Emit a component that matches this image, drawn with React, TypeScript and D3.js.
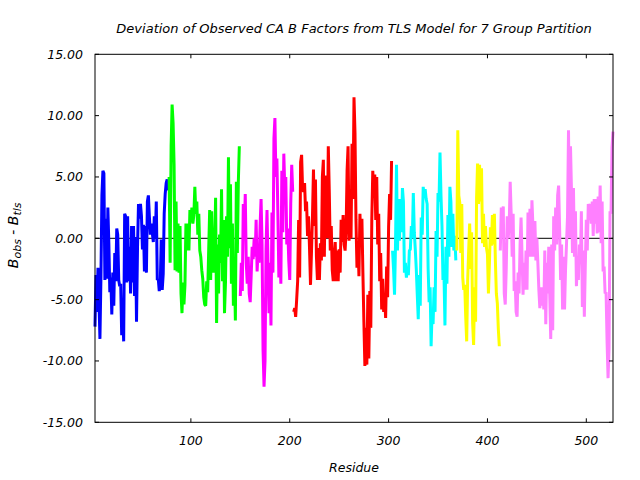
import React from "react";
import * as d3 from "d3";

const titleText = "Deviation of Observed CA B Factors from TLS Model for 7 Group Partition";
const xTicks = [100, 200, 300, 400, 500];
const yTicks = [-15, -10, -5, 0, 5, 10, 15];

const groupStarts = [3, 78, 150, 204, 304, 369, 413];
const groupColors = ["#0000ff", "#00ff00", "#ff00ff", "#ff0000", "#00ffff", "#ffff00", "#ff80ff"];

const group1 = [
  -7.2, -3.0, -6.0, -2.4, -5.0, -8.2, -3.2, 3.5, 5.5, 5.3,
  -3.4, 1.6, -3.3, 2.5, -0.4, -4.4, -3.2, -6.2, -2.8, -5.5,
  -1.2, -3.5, 0.8, 0.3, -3.4, -3.9, -3.7, -7.9, -5.8, -8.4,
  2.0, 1.8, -3.6, 1.8, -3.5, -0.7, -4.5, 1.0, -3.6, 1.0,
  -4.7, 0.1, -6.8, -0.8, 2.8, 1.6, 2.8, 1.8, -0.9, 1.1,
  -2.7, 1.0, -2.8, 3.0, 3.5, 1.8, 0.3, 1.2, 0.4, -0.3,
  1.8, 0.0, 3.0, -3.4, -3.3, -4.3, -3.8, -0.1, -4.2, -2.9,
  2.0, 3.6, 4.5, 4.8, 3.9,
];
const group2 = [
  5.0, -2.0, 7.5, 10.9, 9.4, 6.0, -2.6, 3.0, -2.7, 1.2,
  -2.8, 1.0, -4.5, -6.1, -3.6, -5.4, -3.8, 1.2, -1.0, 1.2,
  -1.0, 2.3, 1.3, 2.5, 1.2, 1.9, 4.2, 2.0, 3.0, 0.3,
  2.0, -1.0, -1.5, -2.6, -3.3, -4.8, -5.4, -5.5, -3.5, -4.4,
  -1.0, 2.3, -3.4, 2.2, -1.5, -2.8, -1.0, 3.3, -6.9, -0.5,
  -4.5, 0.3, -2.0, 4.0, -3.5, 1.5, -6.1, -3.6, 1.8, -1.5,
  6.6, -0.8, 4.4, -3.7, 1.2, -5.5, -2.3, -6.7, 4.6, -1.2,
  4.6, 7.5,
];
const group3 = [
  -4.7, -2.0, -4.3, 2.8, 0.5, 3.6, -2.0, -3.7, -1.5, -4.5,
  -5.2, -3.0, -0.7, -1.7, 0.0, -1.5, 1.5, -2.7, -0.9, -2.0,
  1.0, 3.2, -0.5, -9.1, -12.1, -10.0, -0.9, 2.3, -2.0, -6.1,
  -2.0, -7.1, 2.1, -2.8, 8.1, 9.8, 5.0, 6.5, 2.0, -3.2,
  -1.0, -3.7, 5.5, 0.5, 6.9, 4.0, 5.0, -0.5, 0.8, -1.8,
  -3.4, 2.8, 6.0, 3.8,
];
const group4 = [
  -6.0, -5.7, -6.4, -5.0, -3.5, 1.5, -3.2, 6.2, 6.8, 4.0,
  3.8, 4.5, 2.2, 3.0, 0.2, 1.8, -0.8, -3.8, -1.1, 1.8,
  5.6, 1.0, 4.8, -1.5, -3.4, -0.8, -3.4, -0.4, -1.8, 5.0,
  6.4, -1.5, 5.0, 5.0, 0.0, 7.5, 3.8, -1.0, 1.0, -2.6,
  -3.5, -1.5, -0.3, -3.5, -1.0, -3.5, -0.9, -2.8, 1.5, -0.3,
  1.9, -0.5, -1.0, 0.6, 5.5, 7.5, -0.2, 2.3, 0.0, 7.7,
  3.2, 11.5, 8.6, 1.5, -2.4, -0.2, -3.1, 2.0, -0.3, 1.6,
  -2.8, -6.8, -10.4, -7.3, -10.3, -4.6, -9.8, -4.3, -7.3, 1.5,
  5.5, 3.5, 5.2, 1.5, 5.0, -0.5, 2.0, -3.5, -1.2, -5.8,
  -3.3, -6.0, -4.8, -6.5, -2.3, -4.8, 0.9, 3.6, 1.5, 6.3,
];
const group5 = [
  -1.0, -2.5, -4.6, -0.5, 6.0, -1.0, 3.2, -0.2, 3.2, 0.5,
  4.1, 3.0, -2.8, -2.0, -3.2, -2.5, -3.0, -1.0, -0.9, 1.0,
  0.0, 3.7, 0.5, -0.9, -2.5, -4.6, -6.6, -3.0, -5.5, 1.7,
  0.3, 4.2, 3.4, 4.0, 3.2, 2.8, -2.5, -5.2, -4.0, -8.8,
  -6.0, -7.0, -4.0, -6.0, 0.6, -1.5, 3.7, 3.0, 7.0, 3.5,
  1.0, -3.4, -2.8, -7.1, -0.7, -3.7, 1.9, -1.5, 4.2, 3.0,
  -0.7, 2.0, -1.0, 0.2, -1.8,
];
const group6 = [
  -1.0, 8.8, 3.5, 2.9, -1.2, 2.8, -3.2, -4.2, -3.8, -6.4,
  -8.4, -3.4, -1.0, 1.2, -2.5, 0.5, -6.9, -8.7, -4.0, -6.8,
  3.3, 6.1, 2.8, 6.0, 3.0, 5.7, -0.4, 2.0, -0.7, 1.0,
  -0.8, -1.3, -4.5, -2.0, 0.9, -0.6, 1.9, -0.5, 2.0, -1.8,
  -4.5, -5.3, -7.4, -8.8,
];
const group7 = [
  -1.0, 2.5, 0.5, 2.6, -4.5, -5.4, -2.5, 1.8, 0.0, 1.2,
  4.6, 2.0, -1.5, 2.0, -4.3, -3.5, -6.0, -6.4, -2.8, -4.5,
  -0.5, 1.7, -1.5, -4.6, -2.0, -4.2, -1.0, -4.2, 2.1, -1.5,
  2.4, -1.5, 3.1, 1.0, -1.5, 1.4, -1.8, 0.0, -2.0, -4.2,
  -5.7, -4.0, -5.5, -4.0, -5.8, -1.0, -7.0, -2.0, -4.5, -0.7,
  -4.6, -8.2, -0.5, -7.5, 1.8, -1.0, 2.5, -0.5, 3.5, 4.3,
  0.8, -3.4, -0.5, -5.8, -1.5, -5.8, -2.5, -0.4, 1.8, 8.8,
  0.0, 7.5, 3.9, -1.2, 4.1, -1.5, 2.2, -3.9, -2.0, -3.4,
  -0.5, -2.1, 2.2, -5.6, -1.0, -6.4, -2.2, 1.5, -1.0, 2.8,
  1.5, 2.8, 1.2, 3.0, 0.2, 3.2, 1.2, 3.2, 0.4, 3.4,
  0.5, 4.3, -0.4, 3.0, -2.7, -2.3, -4.5, -4.4, -8.4, -11.4,
  -9.0, 2.2, 2.0, 7.4, 8.7,
];

const groups = [group1, group2, group3, group4, group5, group6, group7];

const W = 640;
const H = 480;
const left = 95;
const right = 613;
const top = 54.3;
const bottom = 422.3;
const FONT = "'DejaVu Sans', sans-serif";

export default function App() {
  const x = d3.scaleLinear().domain([3, 527]).range([left, right]);
  const y = d3.scaleLinear().domain([-15, 15]).range([bottom, top]);
  const line = d3
    .line<[number, number]>()
    .x((d) => x(d[0]))
    .y((d) => y(d[1]));

  const paths = groups.map((vals, gi) => {
    const start = groupStarts[gi];
    const pts: [number, number][] = vals.map((v, i) => [start + i, v]);
    return (
      <path
        key={gi}
        d={line(pts) || ""}
        fill="none"
        stroke={groupColors[gi]}
        strokeWidth={3}
        strokeLinejoin="bevel"
        strokeLinecap="butt"
      />
    );
  });

  const tickLen = 4;

  return (
    <svg
      width={W}
      height={H}
      style={{ position: "absolute", left: 0, top: 0, background: "#fff" }}
      fontFamily={FONT}
      fontStyle="oblique"
      fontSize={12}
    >
      <rect x={0} y={0} width={W} height={H} fill="#fff" />
      <text x={(left + right) / 2} y={33} textAnchor="middle" fontSize={13}>
        {titleText}
      </text>
      <line x1={left} x2={right} y1={y(0)} y2={y(0)} stroke="#000" strokeWidth={1} />
      {paths}
      <rect x={left} y={top} width={right - left} height={bottom - top} fill="none" stroke="#000" strokeWidth={1} />
      {yTicks.map((t) => (
        <g key={"y" + t}>
          <line x1={left} x2={left + tickLen} y1={y(t)} y2={y(t)} stroke="#000" />
          <line x1={right} x2={right - tickLen} y1={y(t)} y2={y(t)} stroke="#000" />
          <text x={83} y={y(t) + 4.5} textAnchor="end" fontSize={12.5}>
            {t.toFixed(2)}
          </text>
        </g>
      ))}
      {xTicks.map((t) => (
        <g key={"x" + t}>
          <line x1={x(t)} x2={x(t)} y1={bottom} y2={bottom - tickLen} stroke="#000" />
          <line x1={x(t)} x2={x(t)} y1={top} y2={top + tickLen} stroke="#000" />
          <text x={x(t)} y={444.5} textAnchor="middle" fontSize={12.5}>
            {t}
          </text>
        </g>
      ))}
      <text x={(left + right) / 2} y={471.5} textAnchor="middle" fontSize={12.5}>
        Residue
      </text>
      <text transform={`translate(18, ${y(0) - 3}) rotate(-90)`} textAnchor="middle" fontSize={14}>
        <tspan>B</tspan>
        <tspan fontSize={11} dy={3}>obs</tspan>
        <tspan dy={-3}>{"  -  B"}</tspan>
        <tspan fontSize={11} dy={3}>tls</tspan>
      </text>
    </svg>
  );
}
